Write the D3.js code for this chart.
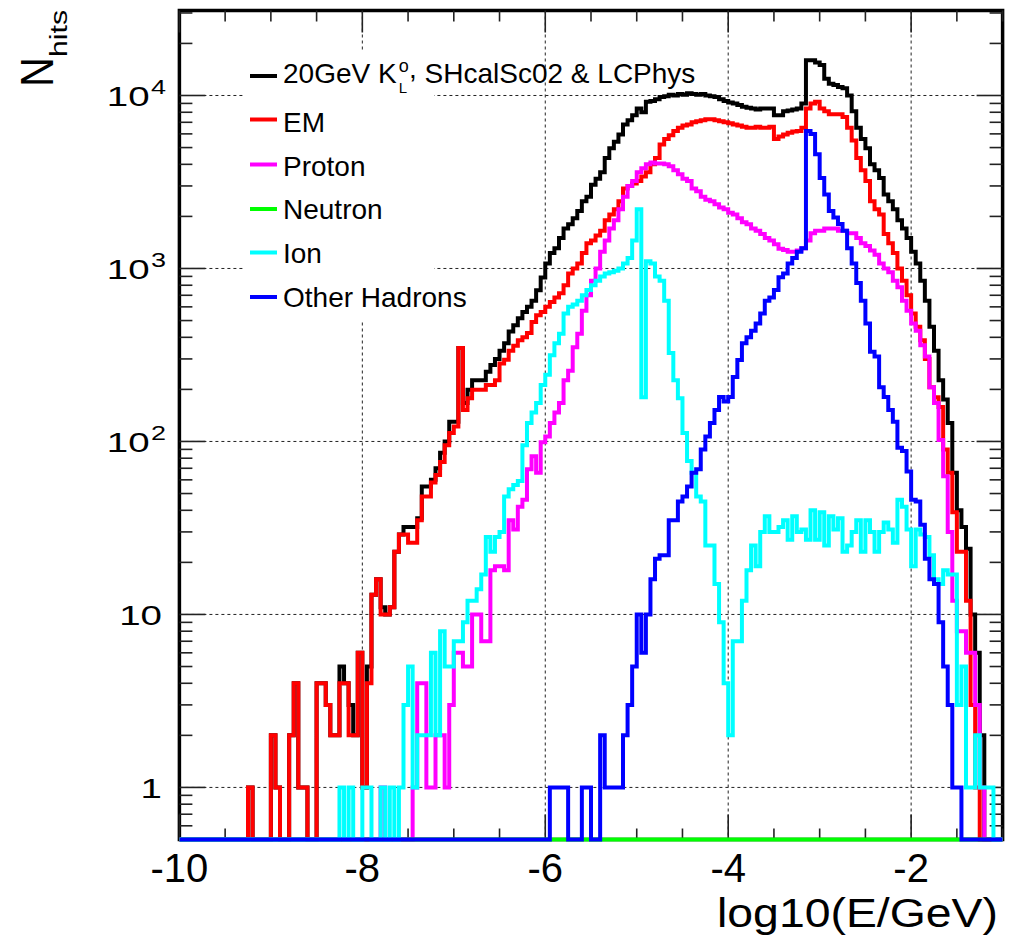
<!DOCTYPE html>
<html>
<head>
<meta charset="utf-8">
<script src="https://cdn.jsdelivr.net/npm/d3@7"></script>
<style>
  body { margin: 0; background: #fff; }
  svg { display: block; }
  text { font-family: "Liberation Sans", Arial, Helvetica, sans-serif; fill: #000; }
</style>
</head>
<body>
<svg id="chart" width="1012" height="949"></svg>
<script>
// Histogram binning: 180 bins of log10(E/GeV) between -10 and -1
const xRange = [-10, -1];
const nBins = 180;
const yRange = [0.5, 31000];

// Hit counts per bin (10 bins per row)
const totalHits = [
  0,0,0,0,0,0,0,0,0,0,
  0,0,0,0,0,1,0,0,0,0,
  2,1,0,0,2,4,1,1,0,0,
  4,4,3,2,2,5,4,3,2,6,
  1,5,13,16,11,10,11,23,29,32,
  32,32,36,55,55,60,70,86,100,130,
  130,347,167,199,226,226,226,253,277,300,
  335,370,432,470,516,560,600,650,748,888,
  1070,1230,1310,1500,1700,1800,1950,2150,2450,2600,
  3050,3300,3600,4350,4950,5400,5950,6800,7200,7700,
  8400,8000,9200,9300,9500,9800,9900,10100,10000,10200,
  10100,10300,10200,10100,10200,10000,9900,9800,9500,9300,
  9100,9000,8800,8600,8500,8400,8300,8400,8400,8400,
  7700,7700,8100,8200,8300,8400,9000,16000,16000,15500,
  15000,12500,11700,11500,11200,11000,10000,8100,6500,5600,
  4950,4000,3700,3330,2680,2450,2200,1900,1700,1500,
  1250,1070,850,650,460,335,226,175,128,66,
  40,32,24,10,6,2,0,0,0,0
];

const emHits = [
  0,0,0,0,0,0,0,0,0,0,
  0,0,0,0,0,1,0,0,0,0,
  2,1,0,0,2,4,1,1,0,0,
  4,4,3,2,2,4,4,2,2,6,
  1,4,13,16,10,10,11,23,29,29,
  26,26,35,48,48,58,64,76,95,112,
  122,347,152,178,199,199,199,212,212,226,
  282,297,335,357,385,400,423,490,536,560,
  600,640,680,718,800,935,1000,1070,1230,1400,
  1450,1550,1650,1900,2050,2200,2450,2900,3000,3100,
  3200,3400,3600,4000,4350,5200,5600,5900,6240,6500,
  6700,6800,7000,7100,7200,7300,7300,7200,7100,7000,
  6900,6800,6700,6600,6500,6500,6600,6500,6500,6600,
  5600,5800,5950,6100,6200,6240,6500,8400,9000,9200,
  8400,8100,7800,7800,7800,7500,6500,5500,4350,3700,
  3200,2450,2200,2050,1580,1400,1230,1000,850,700,
  550,460,385,300,206,180,158,90,66,39,
  23,23,12,3,1,0,0,0,0,0
];

const protonHits = [
  0,0,0,0,0,0,0,0,0,0,
  0,0,0,0,0,0,0,0,0,0,
  0,0,0,0,0,0,0,0,0,0,
  0,0,0,0,0,0,0,0,0,0,
  0,0,0,0,1,0,0,0,0,0,
  0,1,4,4,1,1,2,2,1,3,
  6,6,5,5,10,10,7,7,18,19,
  19,18,35,31,42,46,69,82,66,99,
  107,128,147,167,226,256,350,420,570,700,
  850,1000,1250,1450,1700,1900,2200,2600,3000,3200,
  3600,3800,4000,4100,4050,4050,4000,3900,3700,3500,
  3300,3200,2900,2800,2600,2500,2450,2350,2250,2200,
  2100,2050,1950,1850,1800,1700,1650,1580,1500,1450,
  1380,1300,1280,1250,1250,1270,1310,1450,1600,1650,
  1650,1700,1700,1700,1650,1650,1600,1600,1500,1400,
  1350,1270,1200,1070,1000,950,850,780,650,570,
  480,437,360,310,206,167,102,63,30,12,
  8,8,6,6,3,1,0,0,0,0
];

const neutronHits = [
  0,0,0,0,0,0,0,0,0,0,
  0,0,0,0,0,0,0,0,0,0,
  0,0,0,0,0,0,0,0,0,0,
  0,0,0,0,0,0,0,0,0,0,
  0,0,0,0,0,0,0,0,0,0,
  0,0,0,0,0,0,0,0,0,0,
  0,0,0,0,0,0,0,0,0,0,
  0,0,0,0,0,0,0,0,0,0,
  0,0,0,0,0,0,0,0,0,0,
  0,0,0,0,0,0,0,0,0,0,
  0,0,0,0,0,0,0,0,0,0,
  0,0,0,0,0,0,0,0,0,0,
  0,0,0,0,0,0,0,0,0,0,
  0,0,0,0,0,0,0,0,0,0,
  0,0,0,0,0,0,0,0,0,0,
  0,0,0,0,0,0,0,0,0,0,
  0,0,0,0,0,0,0,0,0,0,
  0,0,0,0,0,0,0,0,0,0
];

const ionHits = [
  0,0,0,0,0,0,0,0,0,0,
  0,0,0,0,0,0,0,0,0,0,
  0,0,0,0,0,0,0,0,0,0,
  0,0,0,0,0,1,0,1,0,0,
  1,1,0,0,1,0,1,0,1,3,
  5,1,2,2,2,6,2,8,5,5,
  7,7,9,12,12,14,17,28,23,28,
  30,48,53,56,59,95,128,147,167,212,
  243,315,370,420,550,600,620,650,700,750,
  800,850,900,935,950,970,1000,1070,1150,1450,
  2200,180,1100,1070,900,850,650,325,226,178,
  112,77,66,48,45,25,25,15,9,4,
  2,7,7,12,18,25,19,30,37,30,
  30,32,35,27,37,30,31,27,40,27,
  39,25,37,31,36,23,25,30,35,23,
  35,30,23,30,34,31,26,46,42,31,
  19,31,29,28,22,16,15,18,17,17,
  3,5,1,1,2,1,1,1,0,0
];

const otherHadronHits = [
  0,0,0,0,0,0,0,0,0,0,
  0,0,0,0,0,0,0,0,0,0,
  0,0,0,0,0,0,0,0,0,0,
  0,0,0,0,0,0,0,0,0,0,
  0,0,0,0,0,0,0,0,0,0,
  0,0,0,0,0,0,0,0,0,0,
  0,0,0,0,0,0,0,0,0,0,
  0,0,0,0,0,0,0,0,0,0,
  0,1,1,1,1,0,0,0,1,1,
  0,0,2,1,1,1,1,2,3,5,
  10,6,10,16,21,22,22,35,35,45,
  48,55,66,69,90,107,128,152,181,170,
  181,236,296,370,400,437,480,550,650,680,
  750,890,935,1070,1150,1250,1310,6240,5980,4570,
  3330,2680,2150,1970,1810,1650,1310,1070,823,650,
  480,330,310,206,181,152,130,92,88,67,
  46,45,33,21,16,15,9,5,3,1,
  1,0,0,0,0,0,0,0,0,0
];

// Axis ticks and labels
const xMajorTicks = [-10, -8, -6, -4, -2];
const xTickLabels = ["-10", "-8", "-6", "-4", "-2"];
const yDecades = [1, 10, 100, 1000, 10000];
const yTickBase = ["1", "10", "10", "10", "10"];
const yTickExp = ["", "", "2", "3", "4"];

// Series in drawing order (legend order)
const series = [
  { values: totalHits,       color: "#000000", label: null },
  { values: emHits,          color: "#ff0000", label: "EM" },
  { values: protonHits,      color: "#ff00ff", label: "Proton" },
  { values: neutronHits,     color: "#00ff00", label: "Neutron" },
  { values: ionHits,         color: "#00ffff", label: "Ion" },
  { values: otherHadronHits, color: "#0000ff", label: "Other Hadrons" }
];

const svg = d3.select("#chart");
const L = 179.4, R = 1002.6, T = 10.5, B = 839.5;

const x = d3.scaleLinear().domain(xRange).range([L, R]);
const y = d3.scaleLog().domain(yRange).range([B, T]).clamp(true);

svg.append("rect").attr("width", 1012).attr("height", 949).attr("fill", "#fff");

// dotted grid
const grid = svg.append("g").attr("stroke", "#222").attr("stroke-width", 1)
  .attr("stroke-dasharray", "3,3").attr("fill", "none");
xMajorTicks.filter(v => v > xRange[0]).forEach(v => {
  grid.append("line").attr("x1", x(v)).attr("x2", x(v)).attr("y1", T).attr("y2", B);
});
yDecades.forEach(v => {
  grid.append("line").attr("x1", L).attr("x2", R).attr("y1", y(v)).attr("y2", y(v));
});

// legend background hides the grid behind the entries
svg.append("rect").attr("x", 243).attr("y", 50).attr("width", 191).attr("height", 272).attr("fill", "#fff");

// frame
svg.append("rect").attr("x", L).attr("y", T).attr("width", R - L).attr("height", B - T)
  .attr("fill", "none").attr("stroke", "#000").attr("stroke-width", 3.5);

// ticks on all four sides
const ticks = svg.append("g").attr("stroke", "#222").attr("stroke-width", 1.6);
const xMinor = d3.range(xRange[0], xRange[1] + 1e-9, 0.5).filter(v => !xMajorTicks.includes(v));
xMajorTicks.forEach(v => {
  ticks.append("line").attr("x1", x(v)).attr("x2", x(v)).attr("y1", B).attr("y2", B - 25);
  ticks.append("line").attr("x1", x(v)).attr("x2", x(v)).attr("y1", T).attr("y2", T + 22);
});
xMinor.forEach(v => {
  ticks.append("line").attr("x1", x(v)).attr("x2", x(v)).attr("y1", B).attr("y2", B - 11);
  ticks.append("line").attr("x1", x(v)).attr("x2", x(v)).attr("y1", T).attr("y2", T + 11);
});
const yMinor = [];
[0.1, 1, 10, 100, 1000, 10000].forEach(d => {
  for (let m = 2; m <= 9; m++) {
    const v = m * d;
    if (v > yRange[0] && v < yRange[1]) yMinor.push(v);
  }
});
yDecades.forEach(v => {
  ticks.append("line").attr("x1", L).attr("x2", L + 26).attr("y1", y(v)).attr("y2", y(v));
  ticks.append("line").attr("x1", R).attr("x2", R - 26).attr("y1", y(v)).attr("y2", y(v));
});
yMinor.forEach(v => {
  ticks.append("line").attr("x1", L).attr("x2", L + 13).attr("y1", y(v)).attr("y2", y(v));
  ticks.append("line").attr("x1", R).attr("x2", R - 13).attr("y1", y(v)).attr("y2", y(v));
});

// histograms
svg.append("clipPath").attr("id", "plotClip").append("rect")
  .attr("x", L).attr("y", T).attr("width", R - L).attr("height", B - T + 4);

const binEdges = d3.range(nBins + 1).map(i => xRange[0] + i * (xRange[1] - xRange[0]) / nBins);
const step = d3.line()
  .x(d => x(d[0]))
  .y(d => d[1] > 0 ? y(d[1]) : B)
  .curve(d3.curveStepAfter);

const hists = svg.append("g").attr("clip-path", "url(#plotClip)");
series.forEach(s => {
  const pts = [[binEdges[0], 0]]
    .concat(s.values.map((v, i) => [binEdges[i], v]))
    .concat([[binEdges[nBins], s.values[nBins - 1]], [binEdges[nBins], 0]]);
  hists.append("path").attr("d", step(pts))
    .attr("fill", "none").attr("stroke", s.color).attr("stroke-width", 4)
    .attr("stroke-linejoin", "miter");
});

// legend
const legendLineY = [76, 119.5, 164.5, 209, 252.5, 297];
const legendTextY = [83, 131.5, 175.5, 219, 262.5, 306.5];
series.forEach((s, i) => {
  svg.append("line").attr("x1", 250).attr("x2", 277)
    .attr("y1", legendLineY[i]).attr("y2", legendLineY[i])
    .attr("stroke", s.color).attr("stroke-width", 4);
  if (s.label) {
    svg.append("text").attr("x", 283).attr("y", legendTextY[i])
      .attr("font-size", 28).text(s.label);
  }
});
const title = svg.append("text").attr("x", 283).attr("y", legendTextY[0]).attr("font-size", 28);
title.append("tspan").text("20GeV K");
title.append("tspan").attr("font-size", 18).attr("dx", 2).attr("dy", -11).text("o");
title.append("tspan").attr("font-size", 15).attr("dx", -10).attr("dy", 21).text("L");
title.append("tspan").attr("font-size", 28).attr("dx", 2).attr("dy", -15).text(",");
title.append("tspan").attr("font-size", 28).attr("dy", 5).text(" SHcalSc02 & LCPhys");

// x tick labels
xMajorTicks.forEach((v, i) => {
  svg.append("text").attr("x", x(v)).attr("y", 882)
    .attr("text-anchor", "middle").attr("font-size", 40).text(xTickLabels[i]);
});

// y tick labels
yDecades.forEach((v, i) => {
  const hasExp = yTickExp[i] !== "";
  const t = svg.append("text")
    .attr("transform", `translate(${hasExp ? 166 : 162},${y(v) + 10.2}) scale(1.35,1)`)
    .attr("text-anchor", "end").attr("font-size", 28.5);
  t.append("tspan").text(yTickBase[i]);
  if (hasExp) t.append("tspan").attr("font-size", 20).attr("dx", 1).attr("dy", -12).text(yTickExp[i]);
});

// axis titles
svg.append("text").attr("x", 717).attr("y", 927).attr("font-size", 40)
  .attr("textLength", 281).attr("lengthAdjust", "spacingAndGlyphs").text("log10(E/GeV)");
svg.append("text").attr("transform", "translate(53,87) rotate(-90)").attr("font-size", 46)
  .attr("textLength", 30).attr("lengthAdjust", "spacingAndGlyphs").text("N");
svg.append("text").attr("transform", "translate(67,57) rotate(-90)").attr("font-size", 23)
  .attr("textLength", 47).attr("lengthAdjust", "spacingAndGlyphs").text("hits");
</script>
</body>
</html>
